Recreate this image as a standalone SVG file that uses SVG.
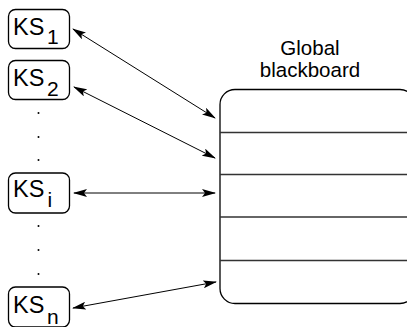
<svg xmlns="http://www.w3.org/2000/svg" width="407" height="327" viewBox="0 0 407 327">
<style>
.box{fill:#fff;stroke:#000;stroke-width:1.3}
.t{font-family:"Liberation Sans",Arial,sans-serif;font-size:23.5px;fill:#000}
.s{font-family:"Liberation Sans",Arial,sans-serif;font-size:21px;fill:#000}
.lbl{font-family:"Liberation Sans",Arial,sans-serif;font-size:20.5px;fill:#000;text-anchor:middle}
.row{stroke:#333;stroke-width:1.3}
.c{stroke:#000;stroke-width:1;fill:none;marker-start:url(#ah);marker-end:url(#ah)}
.dot{fill:#000}
</style>
<defs>
<marker id="ah" viewBox="0 0 14 8" refX="13" refY="4" markerWidth="14" markerHeight="8" markerUnits="userSpaceOnUse" orient="auto-start-reverse">
<path d="M0,0 L14,4 L0,8 L3,4 Z" fill="#000"/>
</marker>
</defs>
<g id="blackboard">
<rect class="box" x="220" y="89.5" width="195" height="214" rx="15" ry="15"/>
<line class="row" x1="220" y1="132.5" x2="407" y2="132.5"/>
<line class="row" x1="220" y1="174.5" x2="407" y2="174.5"/>
<line class="row" x1="220" y1="217" x2="407" y2="217"/>
<line class="row" x1="220" y1="260.5" x2="407" y2="260.5"/>
<text class="lbl" x="310" y="55">Global</text>
<text class="lbl" x="310" y="77">blackboard</text>
</g>
<g id="ks1">
<rect class="box" x="8.5" y="9.5" width="61" height="39" rx="7"/>
<text class="t" x="13" y="34.5">KS</text><text class="s" x="47" y="43.5">1</text>
</g>
<g id="ks2">
<rect class="box" x="8.5" y="60.5" width="61" height="39" rx="7"/>
<text class="t" x="13" y="85.5">KS</text><text class="s" x="47" y="95.5">2</text>
</g>
<g id="ksi">
<rect class="box" x="8.5" y="173" width="61" height="40" rx="7"/>
<text class="t" x="13" y="197">KS</text><text class="s" x="47.5" y="207">i</text>
</g>
<g id="ksn">
<rect class="box" x="8.5" y="287" width="61" height="40" rx="7"/>
<text class="t" x="13" y="313">KS</text><text class="s" x="47" y="324">n</text>
</g>
<g id="dots">
<circle class="dot" cx="38.5" cy="113" r="1"/>
<circle class="dot" cx="38.5" cy="137" r="1"/>
<circle class="dot" cx="38.5" cy="160" r="1"/>
<circle class="dot" cx="38.5" cy="226" r="1"/>
<circle class="dot" cx="38.5" cy="250" r="1"/>
<circle class="dot" cx="38.5" cy="274" r="1"/>
</g>
<g id="connectors">
<line class="c" x1="73" y1="29" x2="215" y2="118"/>
<line class="c" x1="74" y1="87" x2="215" y2="158"/>
<line class="c" x1="74" y1="193" x2="215" y2="193"/>
<line class="c" x1="73" y1="308" x2="216" y2="282"/>
</g>
</svg>
